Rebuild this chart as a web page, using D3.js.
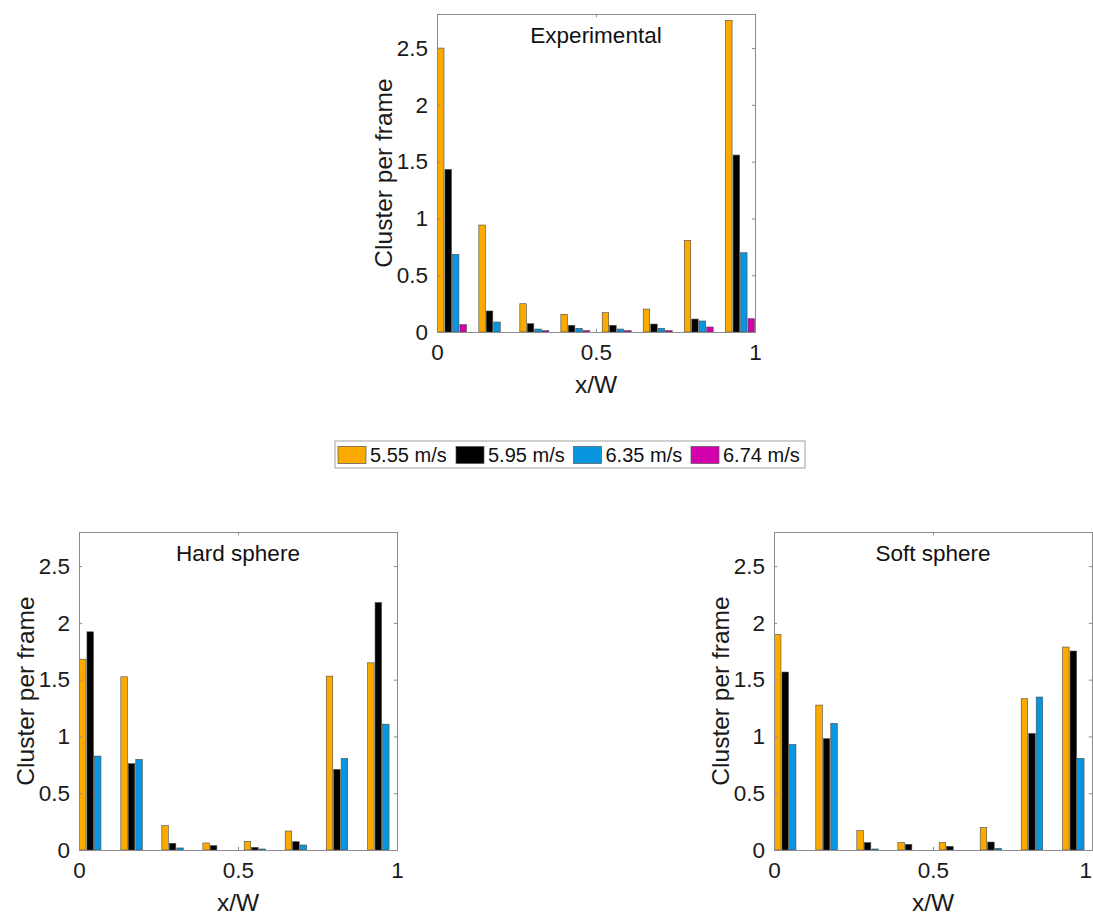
<!DOCTYPE html>
<html>
<head>
<meta charset="utf-8">
<script src="https://cdn.jsdelivr.net/npm/d3@7"></script>
<style>
  html, body { margin: 0; padding: 0; background: #fff; overflow: hidden; }
  svg { display: block; font-family: "Liberation Sans", Arial, sans-serif; }
</style>
</head>
<body>
<svg id="chart" width="1093" height="915"></svg>
<script>
// Bin centres of the eight x/W slices across the channel width
const binCenters = [0.047, 0.177, 0.306, 0.435, 0.565, 0.694, 0.823, 0.953];
const binSpacing = 0.1294;

// Superficial gas velocities (legend entries) and their colours
const seriesLabels = ["5.55 m/s", "5.95 m/s", "6.35 m/s", "6.74 m/s"];
const seriesColors = ["#FDAA00", "#000000", "#0896E0", "#D400AE"];

// Clusters per frame, experiment
const expV555 = [2.50, 0.942, 0.249, 0.156, 0.170, 0.202, 0.807, 2.744];
const expV595 = [1.432, 0.185, 0.073, 0.059, 0.059, 0.070, 0.114, 1.558];
const expV635 = [0.684, 0.088, 0.026, 0.032, 0.026, 0.032, 0.097, 0.698];
const expV674 = [0.065, 0, 0.012, 0.012, 0.012, 0.012, 0.044, 0.117];

// Clusters per frame, hard-sphere simulation
const hardV555 = [1.680, 1.525, 0.214, 0.062, 0.076, 0.167, 1.531, 1.648];
const hardV595 = [1.921, 0.760, 0.059, 0.038, 0.023, 0.073, 0.710, 2.179];
const hardV635 = [0.827, 0.798, 0.018, 0, 0.009, 0.044, 0.806, 1.108];

// Clusters per frame, soft-sphere simulation
const softV555 = [1.898, 1.276, 0.170, 0.065, 0.065, 0.197, 1.332, 1.787];
const softV595 = [1.567, 0.980, 0.065, 0.050, 0.032, 0.070, 1.027, 1.752];
const softV635 = [0.930, 1.115, 0.009, 0, 0, 0.015, 1.347, 0.807];

// Axis ticks
const yTicks = [0, 0.5, 1, 1.5, 2, 2.5];
const yTickLabels = ["0", "0.5", "1", "1.5", "2", "2.5"];
const xTicks = [0, 0.5, 1];
const xTickLabels = ["0", "0.5", "1"];
const yMax = 2.8;

const panels = [
  { title: "Experimental", left: 437, top: 14, series: [expV555, expV595, expV635, expV674] },
  { title: "Hard sphere", left: 79, top: 532, series: [hardV555, hardV595, hardV635, null] },
  { title: "Soft sphere", left: 774, top: 532, series: [softV555, softV595, softV635, null] }
];

const W = 318, H = 318;
const pageW = 1093;
const axisColor = "#8c8c8c";
const tickFont = 22.5, labelFont = 24.5, titleFont = 22.5;
const svg = d3.select("#chart");

panels.forEach(p => {
  const g = svg.append("g").attr("transform", `translate(${p.left},${p.top})`);
  const x = d3.scaleLinear().domain([0, 1]).range([0, W]);
  const y = d3.scaleLinear().domain([0, yMax]).range([H, 0]);
  const groupW = x(binSpacing * 4 / 5.5) - x(0);
  const inner = d3.scaleBand().domain([0, 1, 2, 3]).range([-groupW / 2, groupW / 2]).paddingInner(0.13).paddingOuter(0.065);

  // bars
  p.series.forEach((vals, si) => {
    if (!vals) return;
    const recs = vals.map((v, i) => ({ v, c: binCenters[i] })).filter(d => d.v > 0);
    g.append("g").selectAll("rect").data(recs).join("rect")
      .attr("x", d => x(d.c) + inner(si))
      .attr("width", inner.bandwidth())
      .attr("y", d => y(d.v))
      .attr("height", d => y(0) - y(d.v))
      .attr("fill", seriesColors[si])
      .attr("stroke", "#4a4a4a")
      .attr("stroke-width", 0.6);
  });

  // box axes with inward ticks on all four sides
  const tickLen = 3.2;
  const left = d3.axisLeft(y).tickValues(yTicks).tickSize(-tickLen).tickFormat((d, i) => yTickLabels[i]).tickPadding(9);
  const right = d3.axisRight(y).tickValues(yTicks).tickSize(-tickLen).tickFormat("");
  const bottom = d3.axisBottom(x).tickValues(xTicks).tickSize(-tickLen).tickFormat((d, i) => xTickLabels[i]).tickPadding(12);
  const top = d3.axisTop(x).tickValues(xTicks).tickSize(-tickLen).tickFormat("");

  const gl = g.append("g").call(left);
  const gr = g.append("g").attr("transform", `translate(${W},0)`).call(right);
  const gb = g.append("g").attr("transform", `translate(0,${H})`).call(bottom);
  const gt = g.append("g").call(top);
  [gl, gr, gb, gt].forEach(a => {
    a.select(".domain").attr("stroke", axisColor).attr("stroke-width", 1);
    a.selectAll(".tick line").attr("stroke", axisColor);
    a.selectAll(".tick text").attr("fill", "#1a1a1a").attr("font-size", tickFont)
      .attr("font-family", "'Liberation Sans', Arial, sans-serif");
  });
  gb.selectAll(".tick text").attr("dy", "0.71em");
  // keep a tick label that would run past the page edge inside it
  gb.selectAll(".tick text").each(function () {
    const bb = this.getBoundingClientRect();
    if (bb.right > pageW - 1) d3.select(this).attr("dx", -(bb.right - (pageW - 1)));
  });

  // title inside the axes
  g.append("text").attr("x", W / 2).attr("y", 29).attr("text-anchor", "middle")
    .attr("font-size", titleFont).attr("fill", "#111").text(p.title);

  // axis labels
  g.append("text").attr("x", W / 2).attr("y", H + 61).attr("text-anchor", "middle")
    .attr("font-size", labelFont).attr("fill", "#1a1a1a").text("x/W");
  g.append("text").attr("transform", `translate(-45,${H / 2}) rotate(-90)`).attr("text-anchor", "middle")
    .attr("font-size", labelFont).attr("fill", "#1a1a1a").text("Cluster per frame");
});

// shared legend
const legend = svg.append("g").attr("transform", "translate(335,441)");
legend.append("rect").attr("x", 0).attr("y", 0).attr("width", 470).attr("height", 27)
  .attr("fill", "#fff").attr("stroke", "#a0a0a0").attr("stroke-width", 1);
const itemX = [3, 121, 238.5, 356];
seriesLabels.forEach((lab, i) => {
  const it = legend.append("g").attr("transform", `translate(${itemX[i]},5.5)`);
  it.append("rect").attr("width", 28).attr("height", 17).attr("fill", seriesColors[i])
    .attr("stroke", "#555").attr("stroke-width", 0.7);
  it.append("text").attr("x", 32).attr("y", 15.5).attr("font-size", 20).attr("fill", "#111").text(lab);
});
</script>
</body>
</html>
